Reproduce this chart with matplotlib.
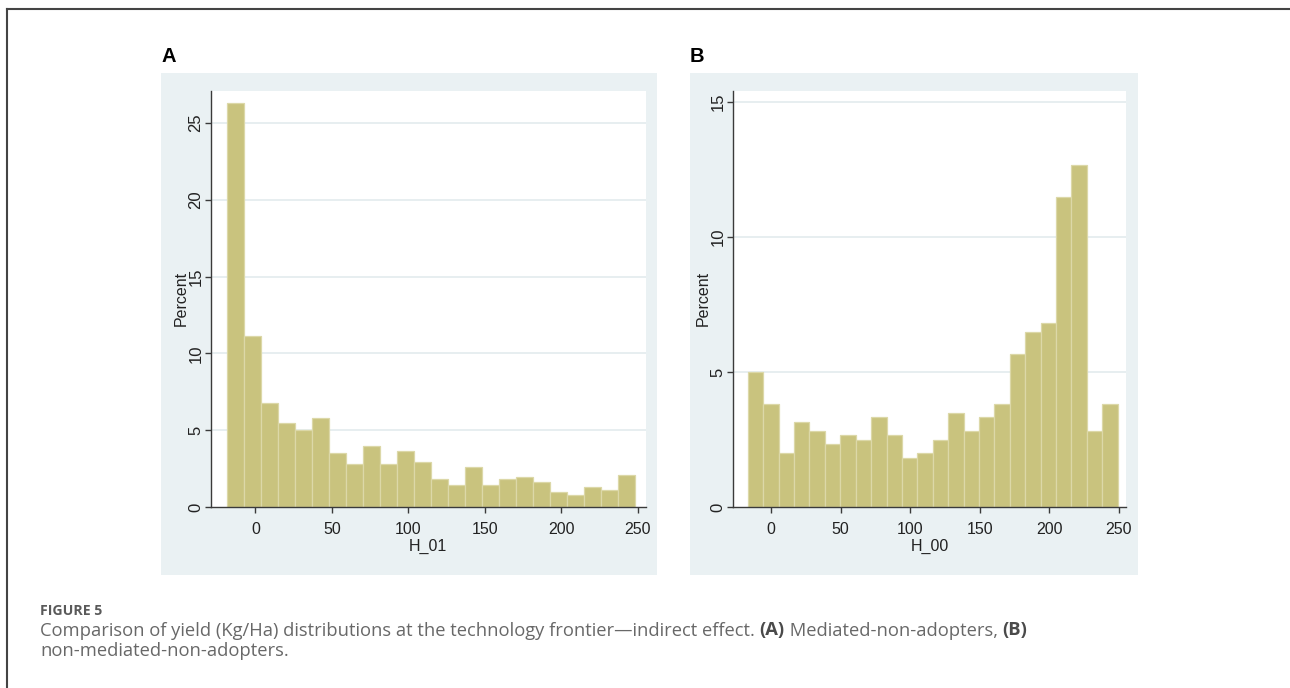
import numpy as np
import matplotlib.pyplot as plt
from matplotlib.lines import Line2D

# Histogram of H_01 (mediated non-adopters), percent per bin
a_start = -18.3
a_width = 11.1
a_pct = [26.3, 11.1, 6.8, 5.5, 5.0, 5.8, 3.5, 2.8, 3.95, 2.8, 3.65, 2.95,
         1.8, 1.45, 2.6, 1.45, 1.8, 1.95, 1.6, 0.95, 0.8, 1.3, 1.1, 2.1]

# Histogram of H_00 (non-mediated non-adopters)
b_start = -16.8
b_width = 11.08
b_pct = [5.0, 3.83, 2.0, 3.16, 2.83, 2.32, 2.65, 2.49, 3.32, 2.65, 1.81, 2.0,
         2.49, 3.49, 2.83, 3.32, 3.83, 5.67, 6.48, 6.81, 11.49, 12.67, 2.83, 3.83]

xticks = [0, 50, 100, 150, 200, 250]
a_yticks = [0, 5, 10, 15, 20, 25]
b_yticks = [0, 5, 10, 15]

bar_col = '#C9C37E'
edge_col = '#DCD8A8'
bg_col = '#EAF1F3'
grid_col = '#E3EBEE'
ax_col = '#3A3A3A'

W, H = 1290, 688
fig = plt.figure(figsize=(W / 100, H / 100), dpi=100)
fig.patch.set_facecolor('white')


def box(x0, y0, x1, y1):
    # pixel box (from top-left) -> figure fraction rect
    return [x0 / W, 1 - y1 / H, (x1 - x0) / W, (y1 - y0) / H]


def panel(bg_rect, ax_rect, start, width, pct, xlim, ylim, yticks, xlab, letter):
    bg = fig.add_axes(box(*bg_rect))
    bg.set_facecolor(bg_col)
    bg.set_xticks([])
    bg.set_yticks([])
    for s in bg.spines.values():
        s.set_visible(False)

    ax = fig.add_axes(box(*ax_rect))
    ax.set_facecolor('white')
    lefts = start + width * np.arange(len(pct))
    ax.bar(lefts, pct, width=width, align='edge', color=bar_col,
           edgecolor=edge_col, linewidth=0.9, zorder=2)
    ax.set_xlim(*xlim)
    ax.set_ylim(*ylim)
    ax.set_xticks(xticks)
    ax.set_yticks(yticks)
    for t in yticks[1:]:
        ax.axhline(t, color=grid_col, lw=1.2, zorder=1)
    for s in ['top', 'right']:
        ax.spines[s].set_visible(False)
    for s in ['left', 'bottom']:
        ax.spines[s].set_color(ax_col)
        ax.spines[s].set_linewidth(1.0)
    ax.tick_params(axis='both', direction='out', length=4, width=1.0, color=ax_col)
    ax.tick_params(axis='x', pad=6.5)
    ax.tick_params(axis='y', pad=1.2)
    for lb in ax.get_xticklabels():
        lb.set_family(['Liberation Sans Narrow', 'Liberation Sans'])
        lb.set_fontsize(11.5)
        lb.set_color('#222222')
    for lb in ax.get_yticklabels():
        lb.set_family(['Liberation Sans', 'DejaVu Sans'])
        lb.set_fontsize(12)
        lb.set_rotation(90)
        lb.set_va('center')
        lb.set_color('#222222')
    ax.set_xlabel(xlab, family=['Liberation Sans Narrow', 'Liberation Sans'],
                  fontsize=11.5, labelpad=1.5, color='#222222')
    ax.set_ylabel('Percent', family=['Liberation Sans', 'DejaVu Sans'],
                  fontsize=11.5, labelpad=0, color='#222222')
    fig.text(bg_rect[0] / W, 1 - 62 / H, letter, fontsize=14.5, weight='bold',
             family=['Liberation Sans', 'DejaVu Sans'], ha='left', va='baseline')
    return ax


ax_a = panel((161, 73, 657, 575), (210.7, 90.7, 645.7, 507),
             a_start, a_width, a_pct, (-29.2, 255.3), (0, 27.1), a_yticks, 'H_01', 'A')
ax_b = panel((690, 73, 1138, 575), (733, 90.7, 1126.3, 507),
             b_start, b_width, b_pct, (-27.5, 255.4), (0, 15.42), b_yticks, 'H_00', 'B')

# frame around the figure (top and left edge)
fig.add_artist(Line2D([7 / W, 1], [1 - 9 / H, 1 - 9 / H], color='#444444', lw=1.5))
fig.add_artist(Line2D([7 / W, 7 / W], [0, 1 - 9 / H], color='#444444', lw=1.5))

# caption
cap_font = ['Open Sans', 'DejaVu Sans']
fig.text(40 / W, 1 - 615 / H, 'FIGURE 5', fontsize=10.2, weight='bold',
         family=cap_font, color='#5a5a5a', va='baseline')

fig.canvas.draw()
rend = fig.canvas.get_renderer()


def runs(x, y, pieces, size):
    for txt, wt in pieces:
        col = '#4a4a4a' if wt == 'bold' else '#686868'
        t = fig.text(x / W, 1 - y / H, txt, fontsize=size, weight=wt,
                     family=cap_font, color=col, va='baseline')
        bb = t.get_window_extent(rend)
        x = bb.x1


cap_size = 13.2
runs(40, 635.5, [
    ('Comparison of yield (Kg/Ha) distributions at the technology frontier\u2014indirect effect. ', 'normal'),
    ('(A)', 'bold'),
    (' Mediated-non-adopters, ', 'normal'),
    ('(B)', 'bold'),
], cap_size)
runs(40, 656, [('non-mediated-non-adopters.', 'normal')], cap_size)

fig.savefig('out.png', dpi=100)
